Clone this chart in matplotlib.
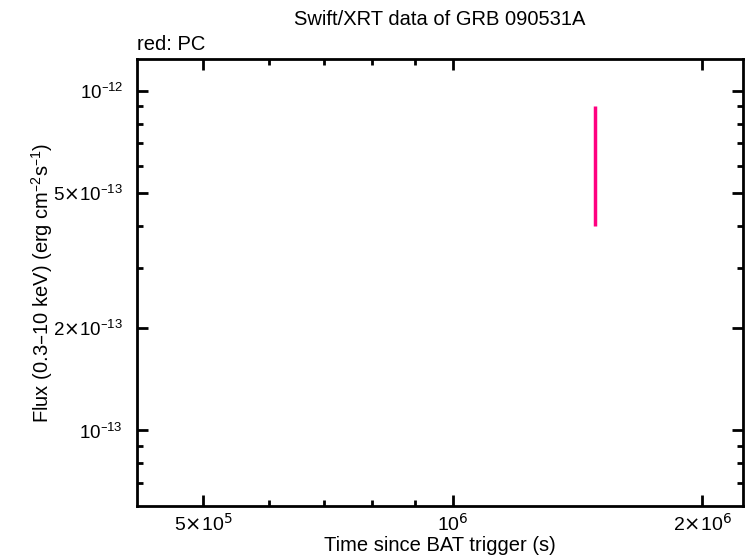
import numpy as np
import matplotlib
matplotlib.use("Agg")
import matplotlib.pyplot as plt
from matplotlib.ticker import FixedLocator, NullFormatter

plt.rcParams['font.family'] = ['Liberation Sans', 'DejaVu Sans']

# data
t = np.array([1.486e6])
flux = np.array([6.0e-13])
flux_lo = np.array([4.01e-13])
flux_hi = np.array([9.03e-13])

xticks = [5e5, 1e6, 2e6]
xticklabels = [r'5$\times$10$^{5}$', r'10$^{6}$', r'2$\times$10$^{6}$']
yticks = [1e-13, 2e-13, 5e-13, 1e-12]
yticklabels = [r'10$^{\mathregular{–13}}$', r'2$\times$10$^{\mathregular{–13}}$',
               r'5$\times$10$^{\mathregular{–13}}$', r'10$^{\mathregular{–12}}$']

fig = plt.figure(figsize=(7.46, 5.58), dpi=100)
ax = fig.add_axes([0.1836, 0.0932, 0.8124, 0.8008])

yerr = np.vstack([flux - flux_lo, flux_hi - flux])
ax.errorbar(t, flux, yerr=yerr, fmt='none', ecolor='#ff0080', elinewidth=2.5, capsize=0)

ax.set_xscale('log')
ax.set_yscale('log')
ax.set_xlim(4.16e5, 2.24e6)
ax.set_ylim(5.98e-14, 1.24e-12)

ax.xaxis.set_major_locator(FixedLocator(xticks))
ax.set_xticklabels(xticklabels)
ax.xaxis.set_minor_locator(FixedLocator([6e5, 7e5, 8e5, 9e5]))
ax.xaxis.set_minor_formatter(NullFormatter())
ax.yaxis.set_major_locator(FixedLocator(yticks))
ax.set_yticklabels(yticklabels)
ax.yaxis.set_minor_locator(FixedLocator([7e-14, 8e-14, 9e-14, 3e-13, 4e-13, 6e-13, 7e-13, 8e-13, 9e-13, 2e-12]))
ax.yaxis.set_minor_formatter(NullFormatter())

ax.tick_params(which='both', direction='in', top=True, right=True, width=2, labelsize=14)
ax.tick_params(axis='x', pad=5)
ax.tick_params(axis='y', pad=10, labelsize=13.5)
ax.tick_params(which='major', length=8)
ax.tick_params(which='minor', length=4)
for s in ax.spines.values():
    s.set_linewidth(2)

ax.set_xlabel('Time since BAT trigger (s)', fontsize=14.5, labelpad=1)
ax.set_ylabel(r'Flux (0.3–10 keV) (erg cm$^{\mathregular{–2}}$s$^{\mathregular{–1}}$)', fontsize=14.5)
ax.yaxis.set_label_coords(-0.136, 0.5)
ax.set_title('Swift/XRT data of GRB 090531A', fontsize=14.5, pad=24.5)
ax.text(0.0, 1.012, 'red: PC', transform=ax.transAxes, fontsize=14.5, ha='left', va='bottom')

fig.savefig('out.png', dpi=100)
